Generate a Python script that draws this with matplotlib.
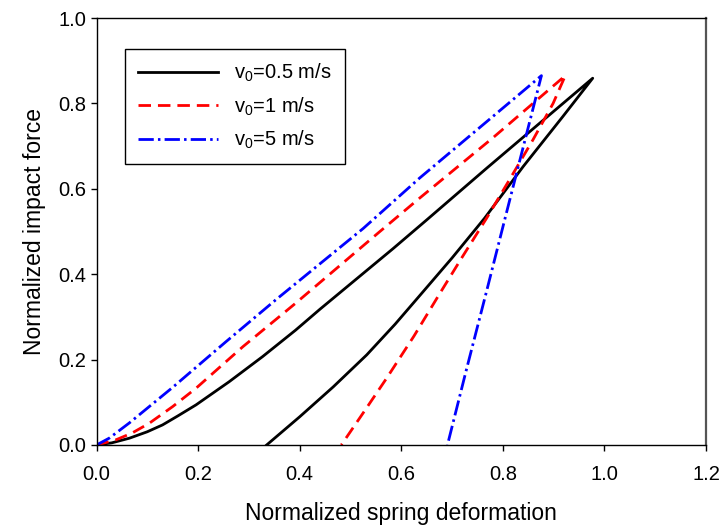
import matplotlib
matplotlib.use('Agg')
from matplotlib import pyplot as plt

plt.rcParams['font.family'] = ['Liberation Sans', 'DejaVu Sans']
plt.rcParams['mathtext.default'] = 'regular'
plt.rcParams['lines.scale_dashes'] = False

# loading branch up to the peak, then unloading branch back to zero force
x_05 = [0, 0.030, 0.065, 0.100, 0.130, 0.160, 0.196, 0.261, 0.327, 0.392, 0.440, 0.584, 0.650,
        0.768, 0.866, 0.977,
        0.918, 0.840, 0.764, 0.700, 0.643, 0.588, 0.532, 0.466, 0.400, 0.335]
y_05 = [0, 0.005, 0.016, 0.031, 0.047, 0.068, 0.094, 0.148, 0.207, 0.269, 0.318, 0.460, 0.527,
        0.648, 0.747, 0.859,
        0.769, 0.652, 0.531, 0.438, 0.359, 0.283, 0.211, 0.136, 0.066, 0]

x_1 = [0, 0.038, 0.070, 0.104, 0.150, 0.196, 0.288, 0.392, 0.558, 0.636, 0.781, 0.923,
       0.899, 0.859, 0.813, 0.768, 0.720, 0.676, 0.625, 0.571, 0.525, 0.482]
y_1 = [0, 0.012, 0.028, 0.051, 0.090, 0.133, 0.230, 0.332, 0.500, 0.578, 0.720, 0.865,
       0.800, 0.714, 0.621, 0.531, 0.440, 0.355, 0.255, 0.156, 0.075, 0]

x_5 = [0, 0.025, 0.065, 0.150, 0.255, 0.353, 0.525, 0.636, 0.768, 0.876,
       0.843, 0.807, 0.768, 0.728, 0.691]
y_5 = [0, 0.016, 0.052, 0.135, 0.242, 0.340, 0.507, 0.625, 0.757, 0.865,
       0.711, 0.543, 0.360, 0.175, 0]

labels = ["v$_0$=0.5 m/s", "v$_0$=1 m/s", "v$_0$=5 m/s"]
xticks = [0.0, 0.2, 0.4, 0.6, 0.8, 1.0, 1.2]
yticks = [0.0, 0.2, 0.4, 0.6, 0.8, 1.0]

fig = plt.figure(figsize=(7.24, 5.25), dpi=100)
ax = fig.add_axes([0.1333, 0.1524, 0.8418, 0.8133])

ax.plot(x_05, y_05, color='black', lw=2, label=labels[0])
ax.plot(x_1, y_1, color='red', lw=2, dashes=(9, 5), label=labels[1])
ax.plot(x_5, y_5, color='blue', lw=2, dashes=(11, 3, 1.8, 3), label=labels[2])

ax.set_xlim(0, 1.2)
ax.set_ylim(0, 1.0)
ax.set_xticks(xticks)
ax.set_yticks(yticks)
ax.set_xticklabels(["%.1f" % t for t in xticks])
ax.set_yticklabels(["%.1f" % t for t in yticks])
ax.tick_params(direction='out', length=4.5, width=1, labelsize=14.5,
               top=False, right=False)
ax.tick_params(axis='x', pad=10)
ax.tick_params(axis='y', pad=3)
for s in ax.spines.values():
    s.set_linewidth(1.0)
ax.spines['right'].set_color('#555555')
ax.spines['right'].set_linewidth(1.6)

ax.set_xlabel("Normalized spring deformation", fontsize=16.5, labelpad=13)
ax.set_ylabel("Normalized impact force", fontsize=16.5, labelpad=9)

leg = ax.legend(loc='upper left', bbox_to_anchor=(0.046, 0.928), borderaxespad=0,
                fontsize=14.5, handlelength=4.0, handletextpad=0.8, labelspacing=0.55,
                borderpad=0.65, fancybox=False, framealpha=1)
leg.get_frame().set_edgecolor('black')
leg.get_frame().set_linewidth(1.0)

plt.savefig("out.png", dpi=100)
